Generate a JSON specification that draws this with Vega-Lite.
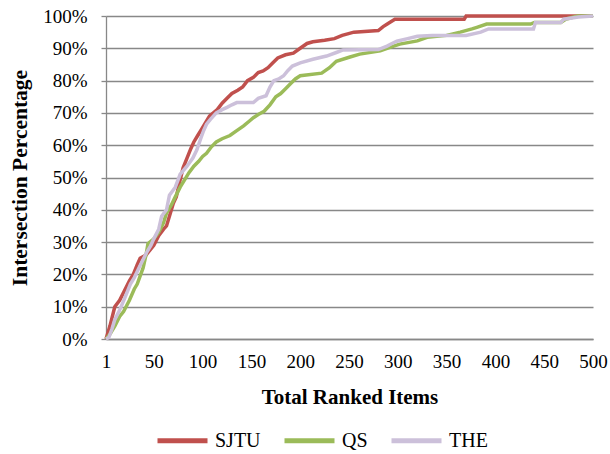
{
  "$schema": "https://vega.github.io/schema/vega-lite/v6.json",
  "width": 487,
  "height": 323,
  "autosize": {"type": "none"},
  "padding": {"left": 106, "top": 16, "right": 17, "bottom": 115},
  "config": {
    "view": {"stroke": null},
    "font": "Liberation Serif",
    "axis": {"labelFont": "Liberation Serif", "titleFont": "Liberation Serif"},
    "legend": {"labelFont": "Liberation Serif", "titleFont": "Liberation Serif"}
  },
  "data": {"values": [
    {"series":"SJTU","rank":1,"pct":0},{"series":"SJTU","rank":5,"pct":4},{"series":"SJTU","rank":10,"pct":10},{"series":"SJTU","rank":15,"pct":12},{"series":"SJTU","rank":20,"pct":15},{"series":"SJTU","rank":25,"pct":18},{"series":"SJTU","rank":29,"pct":20},{"series":"SJTU","rank":33,"pct":23},{"series":"SJTU","rank":36,"pct":25},{"series":"SJTU","rank":42,"pct":26},{"series":"SJTU","rank":46,"pct":27.5},{"series":"SJTU","rank":50,"pct":29},{"series":"SJTU","rank":55,"pct":32},{"series":"SJTU","rank":60,"pct":34},{"series":"SJTU","rank":63,"pct":35},{"series":"SJTU","rank":67,"pct":39},{"series":"SJTU","rank":70,"pct":42},{"series":"SJTU","rank":73,"pct":44},{"series":"SJTU","rank":76,"pct":48},{"series":"SJTU","rank":80,"pct":53},{"series":"SJTU","rank":84,"pct":56},{"series":"SJTU","rank":88,"pct":59},{"series":"SJTU","rank":91,"pct":61},{"series":"SJTU","rank":95,"pct":63},{"series":"SJTU","rank":99,"pct":65},{"series":"SJTU","rank":103,"pct":67},{"series":"SJTU","rank":107,"pct":69},{"series":"SJTU","rank":111,"pct":70},{"series":"SJTU","rank":115,"pct":71},{"series":"SJTU","rank":120,"pct":73},{"series":"SJTU","rank":125,"pct":74.5},{"series":"SJTU","rank":130,"pct":76},{"series":"SJTU","rank":136,"pct":77},{"series":"SJTU","rank":141,"pct":78},{"series":"SJTU","rank":146,"pct":80},{"series":"SJTU","rank":152,"pct":81},{"series":"SJTU","rank":157,"pct":82.5},{"series":"SJTU","rank":162,"pct":83},{"series":"SJTU","rank":167,"pct":84},{"series":"SJTU","rank":172,"pct":85.5},{"series":"SJTU","rank":177,"pct":87},{"series":"SJTU","rank":185,"pct":88},{"series":"SJTU","rank":193,"pct":88.5},{"series":"SJTU","rank":200,"pct":90},{"series":"SJTU","rank":207,"pct":91.5},{"series":"SJTU","rank":213,"pct":92},{"series":"SJTU","rank":225,"pct":92.5},{"series":"SJTU","rank":235,"pct":93},{"series":"SJTU","rank":243,"pct":94},{"series":"SJTU","rank":255,"pct":95},{"series":"SJTU","rank":280,"pct":95.5},{"series":"SJTU","rank":285,"pct":96.7},{"series":"SJTU","rank":290,"pct":97.7},{"series":"SJTU","rank":297,"pct":99},{"series":"SJTU","rank":368,"pct":99},{"series":"SJTU","rank":370,"pct":100},{"series":"SJTU","rank":500,"pct":100},
    {"series":"QS","rank":1,"pct":0},{"series":"QS","rank":5,"pct":1.5},{"series":"QS","rank":10,"pct":4},{"series":"QS","rank":15,"pct":7},{"series":"QS","rank":19,"pct":8.5},{"series":"QS","rank":25,"pct":12},{"series":"QS","rank":30,"pct":15.5},{"series":"QS","rank":33,"pct":17},{"series":"QS","rank":39,"pct":22},{"series":"QS","rank":42,"pct":26},{"series":"QS","rank":44,"pct":29.5},{"series":"QS","rank":50,"pct":31},{"series":"QS","rank":55,"pct":33},{"series":"QS","rank":60,"pct":36},{"series":"QS","rank":63,"pct":39},{"series":"QS","rank":68,"pct":41.5},{"series":"QS","rank":72,"pct":44},{"series":"QS","rank":77,"pct":47},{"series":"QS","rank":82,"pct":49.5},{"series":"QS","rank":86,"pct":51.5},{"series":"QS","rank":91,"pct":53.5},{"series":"QS","rank":96,"pct":55},{"series":"QS","rank":100,"pct":56.5},{"series":"QS","rank":104,"pct":57.5},{"series":"QS","rank":109,"pct":59.5},{"series":"QS","rank":114,"pct":61},{"series":"QS","rank":120,"pct":62},{"series":"QS","rank":128,"pct":63},{"series":"QS","rank":135,"pct":64.5},{"series":"QS","rank":142,"pct":66},{"series":"QS","rank":148,"pct":67.5},{"series":"QS","rank":152,"pct":68.5},{"series":"QS","rank":157,"pct":69.5},{"series":"QS","rank":163,"pct":70.5},{"series":"QS","rank":169,"pct":72.5},{"series":"QS","rank":175,"pct":75},{"series":"QS","rank":180,"pct":76},{"series":"QS","rank":185,"pct":77.5},{"series":"QS","rank":190,"pct":79},{"series":"QS","rank":195,"pct":80.5},{"series":"QS","rank":200,"pct":81.5},{"series":"QS","rank":222,"pct":82.3},{"series":"QS","rank":230,"pct":84},{"series":"QS","rank":237,"pct":86},{"series":"QS","rank":251,"pct":87.3},{"series":"QS","rank":261,"pct":88.2},{"series":"QS","rank":282,"pct":89.2},{"series":"QS","rank":292,"pct":90.3},{"series":"QS","rank":302,"pct":91.3},{"series":"QS","rank":320,"pct":92.3},{"series":"QS","rank":330,"pct":93.4},{"series":"QS","rank":350,"pct":94},{"series":"QS","rank":364,"pct":95},{"series":"QS","rank":376,"pct":96},{"series":"QS","rank":381,"pct":96.5},{"series":"QS","rank":391,"pct":97.5},{"series":"QS","rank":436,"pct":97.5},{"series":"QS","rank":440,"pct":98},{"series":"QS","rank":467,"pct":98},{"series":"QS","rank":472,"pct":99},{"series":"QS","rank":484,"pct":100},{"series":"QS","rank":500,"pct":100},
    {"series":"THE","rank":1,"pct":0},{"series":"THE","rank":4,"pct":0.5},{"series":"THE","rank":7,"pct":3},{"series":"THE","rank":10,"pct":6},{"series":"THE","rank":15,"pct":9},{"series":"THE","rank":20,"pct":12.5},{"series":"THE","rank":26,"pct":17},{"series":"THE","rank":30,"pct":19},{"series":"THE","rank":34,"pct":21.5},{"series":"THE","rank":38,"pct":24},{"series":"THE","rank":43,"pct":27},{"series":"THE","rank":47,"pct":29},{"series":"THE","rank":50,"pct":31},{"series":"THE","rank":55,"pct":34},{"series":"THE","rank":58,"pct":38},{"series":"THE","rank":63,"pct":40},{"series":"THE","rank":66,"pct":44.5},{"series":"THE","rank":72,"pct":47},{"series":"THE","rank":77,"pct":51},{"series":"THE","rank":84,"pct":53.5},{"series":"THE","rank":90,"pct":56},{"series":"THE","rank":94,"pct":58.5},{"series":"THE","rank":98,"pct":62},{"series":"THE","rank":101,"pct":64.5},{"series":"THE","rank":104,"pct":66.5},{"series":"THE","rank":108,"pct":68},{"series":"THE","rank":114,"pct":70},{"series":"THE","rank":120,"pct":71},{"series":"THE","rank":125,"pct":71.7},{"series":"THE","rank":130,"pct":72.5},{"series":"THE","rank":135,"pct":73.2},{"series":"THE","rank":152,"pct":73.2},{"series":"THE","rank":157,"pct":74.5},{"series":"THE","rank":165,"pct":75.3},{"series":"THE","rank":169,"pct":78},{"series":"THE","rank":173,"pct":80},{"series":"THE","rank":178,"pct":80.5},{"series":"THE","rank":183,"pct":81.5},{"series":"THE","rank":187,"pct":83},{"series":"THE","rank":192,"pct":84.5},{"series":"THE","rank":200,"pct":85.5},{"series":"THE","rank":213,"pct":86.6},{"series":"THE","rank":227,"pct":87.6},{"series":"THE","rank":237,"pct":88.7},{"series":"THE","rank":244,"pct":89.5},{"series":"THE","rank":280,"pct":89.6},{"series":"THE","rank":289,"pct":90.7},{"series":"THE","rank":294,"pct":91.5},{"series":"THE","rank":299,"pct":92.2},{"series":"THE","rank":310,"pct":93},{"series":"THE","rank":320,"pct":93.7},{"series":"THE","rank":335,"pct":94},{"series":"THE","rank":370,"pct":94},{"series":"THE","rank":385,"pct":95},{"series":"THE","rank":393,"pct":96},{"series":"THE","rank":439,"pct":96},{"series":"THE","rank":441,"pct":98},{"series":"THE","rank":467,"pct":98},{"series":"THE","rank":470,"pct":99},{"series":"THE","rank":485,"pct":99.7},{"series":"THE","rank":500,"pct":100}
  ]},
  "mark": {"type": "line", "strokeWidth": 3.5},
  "encoding": {
    "x": {
      "field": "rank", "type": "quantitative",
      "scale": {"domain": [1, 500], "nice": false, "zero": false},
      "axis": {
        "values": [1, 50, 100, 150, 200, 250, 300, 350, 400, 450, 500],
        "title": "Total Ranked Items",
        "titleFontSize": 21, "titleFontWeight": "bold", "titleColor": "black", "titlePadding": 15,
        "labelFontSize": 19, "labelColor": "black", "labelFlush": false, "labelPadding": 13,
        "ticks": false, "grid": false, "domainColor": "#888888", "domainWidth": 1.3
      }
    },
    "y": {
      "field": "pct", "type": "quantitative",
      "scale": {"domain": [0, 100], "nice": false},
      "axis": {
        "values": [0, 10, 20, 30, 40, 50, 60, 70, 80, 90, 100],
        "labelExpr": "datum.value + '%'",
        "title": "Intersection Percentage",
        "titleFontSize": 21.5, "titleFontWeight": "bold", "titleColor": "black", "titlePadding": 11,
        "labelFontSize": 19, "labelColor": "black", "labelPadding": 14,
        "gridColor": "#888888", "gridWidth": 1.3, "tickColor": "#888888", "tickSize": 5, "tickWidth": 1.3,
        "domainColor": "#888888", "domainWidth": 1.3
      }
    },
    "color": {
      "field": "series", "type": "nominal",
      "scale": {"domain": ["SJTU", "QS", "THE"], "range": ["#C0504D", "#9BBB59", "#CCC0DA"]},
      "legend": {
        "title": null, "orient": "none", "direction": "horizontal",
        "legendX": 49, "legendY": 397, "padding": 0,
        "symbolType": "stroke", "symbolSize": 2500, "symbolStrokeWidth": 5,
        "labelFontSize": 20, "labelColor": "black", "labelOffset": 5, "columnPadding": 13
      }
    }
  }
}
